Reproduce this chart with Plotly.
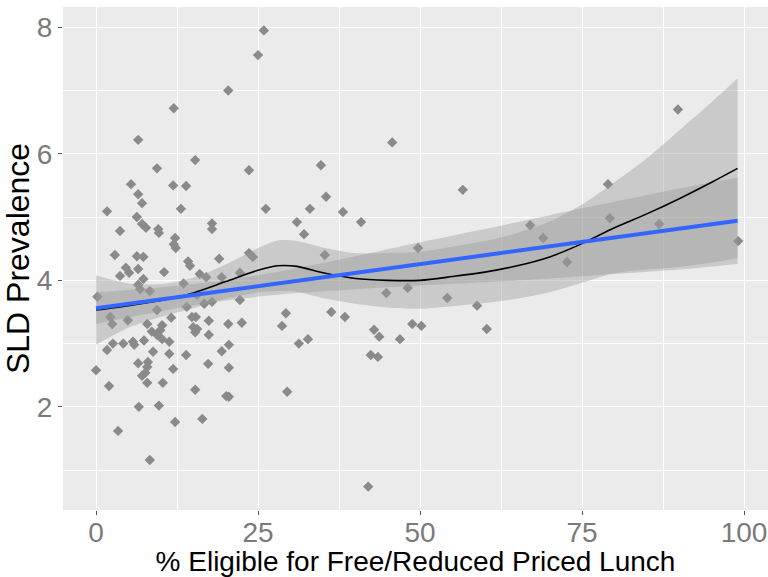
import plotly.graph_objects as go

# Per-district observations: % eligible for free/reduced lunch vs SLD prevalence
frl_pct = [
    25.9, 25.0, 20.4, 12.0, 6.5, 45.7, 89.8, 34.7, 15.3, 9.4,
    23.6, 5.4, 11.9, 13.9, 6.5, 7.1, 1.7, 13.1, 6.3, 7.1,
    7.7, 3.7, 9.6, 9.7, 17.9, 17.9, 12.2, 12.0, 12.3, 2.9,
    6.3, 7.3, 14.2, 14.5, 19.0, 23.6, 24.2, 4.6, 5.1, 3.7,
    6.5, 10.5, 7.3, 16.0, 17.0, 19.4, 22.2, 0.2, 6.5, 6.8,
    8.3, 15.6, 17.9, 16.7, 22.2, 14.0, 2.2, 2.5, 4.9, 9.4,
    11.6, 7.9, 14.8, 15.4, 15.0, 15.6, 15.3, 17.4, 20.4, 22.5,
    10.2, 9.9, 8.6, 9.4, 10.2, 7.4, 11.3, 17.4, 2.6, 1.7,
    4.2, 5.7, 5.9, 19.4, 20.5, 8.8, 11.3, 13.9, 6.5, 8.0,
    7.9, 7.6, 7.1, 17.3, 20.5, 0.0, 11.9, 2.0, 7.9, 10.3,
    15.3, 20.1, 20.5, 6.6, 9.7, 12.2, 16.4, 3.4, 8.3, 26.2,
    35.5, 33.0, 38.1, 31.0, 40.9, 32.1, 56.6, 49.7, 35.3, 44.8,
    48.1, 54.2, 58.8, 29.3, 36.3, 38.4, 28.7, 42.9, 43.7, 48.8,
    50.2, 60.3, 31.3, 32.7, 46.9, 42.4, 43.5, 29.5, 42.0, 67.0,
    69.0, 72.7, 79.0, 79.3, 86.9, 99.1, 13.5,
]
sld_prev = [
    7.95, 7.56, 7.00, 6.72, 6.22, 6.18, 6.70, 5.82, 5.90, 5.77,
    5.74, 5.52, 5.50, 5.49, 5.36, 5.22, 5.09, 5.13, 5.00, 4.89,
    4.83, 4.78, 4.81, 4.75, 4.90, 4.81, 4.67, 4.57, 4.51, 4.40,
    4.38, 4.37, 4.30, 4.23, 4.34, 4.43, 4.37, 4.20, 4.12, 4.07,
    4.18, 4.13, 4.02, 4.10, 4.05, 4.05, 4.12, 3.74, 3.93, 3.86,
    3.83, 3.77, 3.66, 3.63, 3.69, 3.58, 3.42, 3.31, 3.37, 3.53,
    3.41, 3.31, 3.42, 3.42, 3.26, 3.23, 3.18, 3.36, 3.31, 3.33,
    3.29, 3.21, 3.19, 3.14, 3.07, 3.05, 3.03, 3.14, 3.00, 2.90,
    3.00, 3.03, 2.98, 2.88, 2.98, 2.87, 2.84, 2.82, 2.69, 2.71,
    2.63, 2.54, 2.49, 2.68, 2.62, 2.58, 2.60, 2.33, 2.38, 2.38,
    2.27, 2.17, 2.16, 2.00, 2.02, 1.76, 1.81, 1.62, 1.16, 5.13,
    5.32, 5.13, 5.08, 4.92, 4.92, 4.73, 5.43, 4.51, 4.40, 3.80,
    3.88, 3.72, 3.60, 3.48, 3.50, 3.42, 3.28, 3.22, 3.11, 3.31,
    3.28, 3.23, 3.00, 3.07, 3.07, 2.82, 2.79, 2.24, 0.74, 4.87,
    4.67, 4.29, 5.52, 4.98, 4.89, 4.62, 3.95,
]

# Linear fit with its 95% confidence interval
lm_x = [0, 10, 20, 30, 40, 50, 60, 70, 80, 90, 99]
lm_fit = [3.56, 3.70, 3.84, 3.98, 4.12, 4.26, 4.39, 4.53, 4.67, 4.81, 4.94]
lm_halfwidth = [0.25, 0.19, 0.16, 0.19, 0.26, 0.34, 0.42, 0.50, 0.57, 0.64, 0.68]

# LOESS fit with its 95% confidence interval
lo_x = [0, 5, 10, 15, 20, 25, 28, 31, 35, 40, 45, 50, 55, 60, 65, 70, 75, 80, 85, 90, 95, 99]
lo_fit = [3.53, 3.60, 3.68, 3.80, 3.98, 4.16, 4.23, 4.22, 4.12, 4.03, 4.00, 4.00,
          4.06, 4.13, 4.23, 4.37, 4.58, 4.83, 5.05, 5.29, 5.55, 5.77]
lo_halfwidth = [0.55, 0.35, 0.26, 0.24, 0.27, 0.35, 0.40, 0.40, 0.40, 0.40, 0.43, 0.45,
                0.47, 0.49, 0.52, 0.56, 0.62, 0.72, 0.88, 1.08, 1.27, 1.42]

x_ticks = [0, 25, 50, 75, 100]
y_ticks = [2, 4, 6, 8]

BAND = "rgba(153,153,153,0.4)"
FONT = "Liberation Sans, Arial"


def band_traces(xs, fit, hw):
    """Lower edge (invisible) followed by upper edge filled down to it."""
    upper = [f + h for f, h in zip(fit, hw)]
    lower = [f - h for f, h in zip(fit, hw)]
    edge = dict(width=0, shape="spline", smoothing=0.8)
    return [
        go.Scatter(x=xs, y=lower, mode="lines", line=edge,
                   hoverinfo="skip", showlegend=False),
        go.Scatter(x=xs, y=upper, mode="lines", line=edge,
                   fill="tonexty", fillcolor=BAND,
                   hoverinfo="skip", showlegend=False),
    ]


fig = go.Figure()
fig.add_trace(go.Scatter(
    x=frl_pct, y=sld_prev, mode="markers",
    marker=dict(symbol="diamond", size=8, color="#8a8a8a"),
    showlegend=False,
))
fig.add_traces(band_traces(lm_x, lm_fit, lm_halfwidth))
fig.add_traces(band_traces(lo_x, lo_fit, lo_halfwidth))
fig.add_trace(go.Scatter(
    x=lo_x, y=lo_fit, mode="lines",
    line=dict(color="black", width=1.6, shape="spline", smoothing=0.8),
    showlegend=False,
))
fig.add_trace(go.Scatter(
    x=lm_x, y=lm_fit, mode="lines", line=dict(color="#3366FF", width=4),
    showlegend=False,
))

axis_common = dict(
    showgrid=True, gridcolor="white", gridwidth=1.3, zeroline=False,
    ticks="outside", ticklen=4, tickcolor="#555555", tickwidth=1,
    tickfont=dict(family=FONT, size=28, color="#7a7a7a"),
    showline=False,
)

fig.update_xaxes(
    range=[-5.1, 103.7], tickvals=x_ticks, ticktext=[str(v) for v in x_ticks],
    ticklabelstandoff=-7,
    minor=dict(tickvals=[12.5, 37.5, 62.5, 87.5], showgrid=True,
               gridcolor="white", gridwidth=0.6, ticks=""),
    title=dict(text="% Eligible for Free/Reduced Priced Lunch",
               font=dict(family=FONT, size=28, color="black"),
               standoff=0),
    **axis_common,
)
fig.update_yaxes(
    range=[0.37, 8.32], tickvals=y_ticks, ticktext=[str(v) for v in y_ticks],
    minor=dict(tickvals=[1, 3, 5, 7], showgrid=True,
               gridcolor="white", gridwidth=0.6, ticks=""),
    title=dict(text="SLD Prevalence",
               font=dict(family=FONT, size=32, color="black"),
               standoff=2),
    **axis_common,
)

fig.update_layout(
    width=768, height=577,
    margin=dict(l=63, r=0, t=7, b=67),
    plot_bgcolor="#EBEBEB", paper_bgcolor="white",
)

fig.write_html("out.html")
